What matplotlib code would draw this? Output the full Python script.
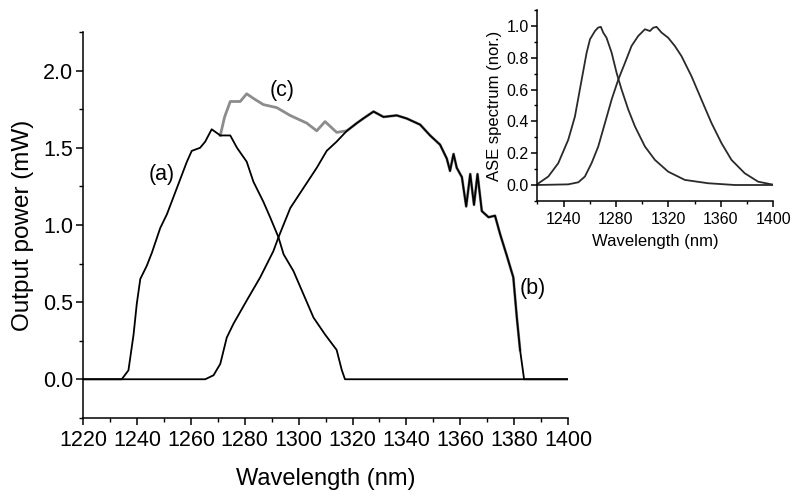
import matplotlib
matplotlib.use("Agg")
import matplotlib.pyplot as plt
import numpy as np
from matplotlib.ticker import MultipleLocator

plt.rcParams["font.family"] = ["Liberation Sans", "DejaVu Sans"]

# Main panel: output power (mW) vs wavelength (nm).
A_WL = [1220, 1234.3, 1236.8, 1238.7, 1239.9, 1241.2, 1243.6, 1245.5, 1248.6, 1251.1,
        1254.8, 1258.5, 1260.3, 1263.4, 1265.3, 1267.7, 1270.9, 1274.6, 1277.1, 1280.7,
        1283.2, 1286.9, 1289.4, 1292.5, 1294.4, 1298.1, 1301.8, 1305.5, 1309.8, 1314.1,
        1316.0, 1317.2, 1400]
A_P = [0, 0, 0.058, 0.29, 0.49, 0.65, 0.735, 0.82, 0.98, 1.07,
       1.24, 1.41, 1.48, 1.50, 1.54, 1.62, 1.58, 1.58, 1.50, 1.41,
       1.28, 1.15, 1.05, 0.92, 0.81, 0.70, 0.55, 0.40, 0.29, 0.19,
       0.06, 0, 0]

B_WL = [1220, 1265.3, 1268.4, 1270.9, 1273.3, 1275.8, 1280.7, 1285.7, 1290.6, 1292.5,
        1296.9, 1301.8, 1306.7, 1310.4, 1314.1, 1317.9, 1321.6, 1324.0, 1327.8, 1331.5,
        1336.4, 1340.1, 1345.1, 1348.8, 1352.5, 1355.0, 1356.2, 1357.5, 1358.7, 1360.6,
        1362.2, 1363.7, 1365.1, 1366.4, 1368.0, 1370.5, 1372.9, 1374.8, 1377.3, 1379.7,
        1381.0, 1382.2, 1383.7, 1400]
B_P = [0, 0, 0.026, 0.10, 0.27, 0.36, 0.51, 0.66, 0.83, 0.92,
       1.11, 1.24, 1.37, 1.48, 1.54, 1.61, 1.66, 1.69, 1.735, 1.70,
       1.71, 1.69, 1.65, 1.58, 1.52, 1.43, 1.35, 1.46, 1.37, 1.31,
       1.12, 1.33, 1.13, 1.33, 1.09, 1.05, 1.06, 0.94, 0.80, 0.66,
       0.40, 0.19, 0, 0]

C_WL = [1270.9, 1272.5, 1274.6, 1278.3, 1280.7, 1283.2, 1286.9, 1291.9, 1296.8, 1303.0,
        1306.7, 1309.8, 1314.1, 1317.9, 1321.6]
C_P = [1.58, 1.70, 1.80, 1.80, 1.85, 1.82, 1.78, 1.76, 1.71, 1.66,
       1.61, 1.67, 1.60, 1.61, 1.66]

# Inset: normalised ASE spectra.
ASE1_WL = [1220, 1220.8, 1228.4, 1236.0, 1243.6, 1248.7, 1253.8, 1257.6, 1260.2, 1264.0,
           1266.5, 1268.5, 1270.3, 1272.8, 1276.7, 1280.5, 1284.3, 1289.4, 1294.5, 1302.1,
           1309.7, 1319.8, 1332.5, 1350.3, 1370.6, 1400]
ASE1 = [0.0, 0.01, 0.053, 0.137, 0.284, 0.43, 0.66, 0.83, 0.916, 0.968,
        0.99, 0.994, 0.958, 0.926, 0.832, 0.705, 0.60, 0.474, 0.368, 0.242,
        0.158, 0.084, 0.032, 0.011, 0.0, 0.0]

ASE2_WL = [1220, 1243.6, 1251.3, 1256.3, 1261.4, 1266.5, 1271.6, 1276.7, 1281.8, 1286.9,
           1291.9, 1297.0, 1302.1, 1305.9, 1308.5, 1311.0, 1314.8, 1319.8, 1324.9, 1330.0,
           1337.6, 1345.2, 1352.9, 1360.5, 1368.1, 1378.2, 1388.4, 1398.6, 1400]
ASE2 = [0.0, 0.004, 0.017, 0.053, 0.137, 0.242, 0.389, 0.537, 0.663, 0.768,
        0.874, 0.937, 0.979, 0.968, 0.989, 0.994, 0.958, 0.926, 0.874, 0.81,
        0.684, 0.537, 0.389, 0.263, 0.158, 0.074, 0.021, 0.004, 0.003]

LABELS = [("(a)", 1249.3, 1.33), ("(b)", 1387.0, 0.59), ("(c)", 1293.9, 1.87)]


def style_axis(ax, size, major, minor):
    for side in ("top", "right"):
        ax.spines[side].set_visible(False)
    for side in ("left", "bottom"):
        ax.spines[side].set_linewidth(1.1)
    ax.tick_params(which="major", direction="out", length=major, width=1.1,
                   labelsize=size, pad=2)
    ax.tick_params(which="minor", direction="out", length=minor, width=1.0)
    ax.patch.set_alpha(0)


fig = plt.figure(figsize=(8.0, 5.01), dpi=100)

ax = fig.add_axes([0.104, 0.166, 0.606, 0.770])
# gray sum curve (c) runs under (b) once the two merge
tail = np.array(B_WL) > C_WL[-1]
c_x = np.concatenate([C_WL, np.array(B_WL)[tail][:-2]])
c_y = np.concatenate([C_P, np.array(B_P)[tail][:-2]])
ax.plot(c_x, c_y, color="#8c8c8c", lw=2.0, zorder=2)
ax.plot(A_WL, A_P, color="black", lw=1.3, zorder=3)
ax.plot(B_WL, B_P, color="black", lw=1.3, zorder=3)
for text, x, y in LABELS:
    ax.text(x, y, text, fontsize=15.5, ha="center", va="center")

ax.set_xlim(1220, 1400)
ax.set_ylim(-0.25, 2.25)
ax.xaxis.set_major_locator(MultipleLocator(20))
ax.xaxis.set_minor_locator(MultipleLocator(10))
ax.yaxis.set_major_locator(MultipleLocator(0.5))
ax.yaxis.set_minor_locator(MultipleLocator(0.25))
ax.yaxis.set_major_formatter(lambda v, p: f"{v:.1f}")
style_axis(ax, 15.5, 5, 3)
ax.tick_params(axis="x", pad=4)
ax.set_xlabel("Wavelength (nm)", fontsize=17, labelpad=12)
ax.set_ylabel("Output power (mW)", fontsize=17.5, labelpad=7)

ins = fig.add_axes([0.6716, 0.599, 0.295, 0.381])
ins.plot(ASE1_WL, ASE1, color="#2a2a2a", lw=1.3)
ins.plot(ASE2_WL, ASE2, color="#2a2a2a", lw=1.3)
ins.set_xlim(1220, 1400)
ins.set_ylim(-0.1, 1.1)
ins.xaxis.set_major_locator(MultipleLocator(40))
ins.xaxis.set_minor_locator(MultipleLocator(20))
ins.xaxis.set_major_formatter(lambda v, p: f"{v:.0f}" if v > 1220 else "")
ins.yaxis.set_major_locator(MultipleLocator(0.2))
ins.yaxis.set_minor_locator(MultipleLocator(0.1))
ins.yaxis.set_major_formatter(lambda v, p: f"{v:.1f}")
style_axis(ins, 11.5, 4, 2.5)
ins.tick_params(axis="x", pad=4)
ins.set_xlabel("Wavelength (nm)", fontsize=12, labelpad=5)
ins.set_ylabel("ASE spectrum (nor.)", fontsize=12, labelpad=3)

fig.savefig("out.png", dpi=100)
